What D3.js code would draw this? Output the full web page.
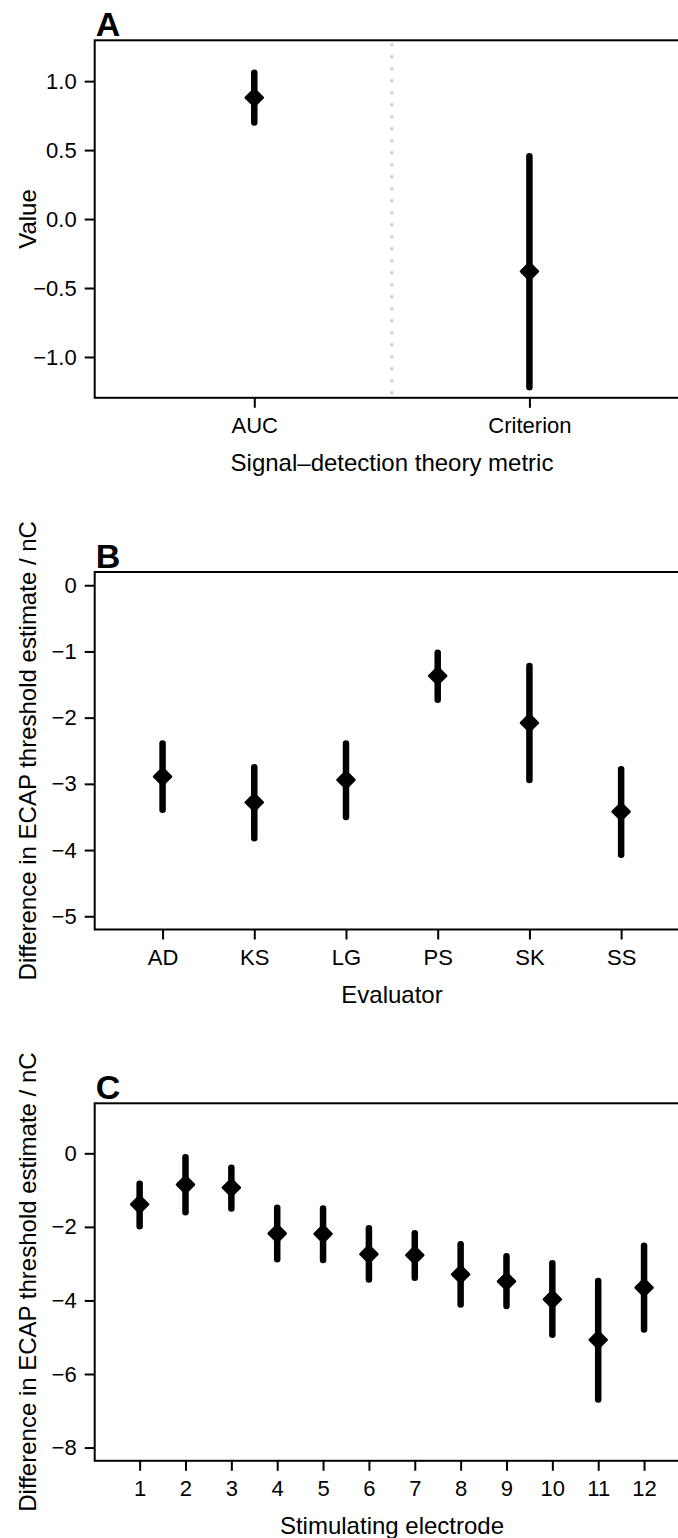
<!DOCTYPE html>
<html>
<head>
<meta charset="utf-8">
<script src="https://cdn.jsdelivr.net/npm/d3@7"></script>
<style>
  body { margin: 0; background: #fff; }
  text { font-family: "Liberation Sans", Arial, Helvetica, sans-serif; fill: #000; }
</style>
</head>
<body>
<div id="chart"></div>
<script>
// Panel A: signal-detection theory metrics
const metricLabels = ["AUC", "Criterion"];
const metricEst = [0.88, -0.38];
const metricLo = [0.70, -1.22];
const metricHi = [1.06, 0.455];
const metricTicks = [-1.0, -0.5, 0.0, 0.5, 1.0];

// Panel B: evaluators
const evaluators = ["AD", "KS", "LG", "PS", "SK", "SS"];
const evalEst = [-2.89, -3.28, -2.94, -1.37, -2.08, -3.42];
const evalLo = [-3.39, -3.82, -3.50, -1.73, -2.94, -4.07];
const evalHi = [-2.39, -2.75, -2.39, -1.02, -1.22, -2.78];
const evalTicks = [-5, -4, -3, -2, -1, 0];

// Panel C: stimulating electrodes
const electrodes = ["1", "2", "3", "4", "5", "6", "7", "8", "9", "10", "11", "12"];
const elecEst = [-1.39, -0.85, -0.93, -2.18, -2.19, -2.74, -2.77, -3.29, -3.48, -3.97, -5.07, -3.65];
const elecLo = [-1.98, -1.60, -1.50, -2.88, -2.90, -3.43, -3.38, -4.11, -4.15, -4.93, -6.69, -4.79];
const elecHi = [-0.83, -0.11, -0.39, -1.48, -1.50, -2.04, -2.17, -2.47, -2.80, -2.99, -3.47, -2.51];
const elecTicks = [-8, -6, -4, -2, 0];

const width = 678, height = 1538;
const left = 94.7, right = 689, panelH = 357.5;

const svg = d3.select("#chart").append("svg")
    .attr("width", width)
    .attr("height", height);

function drawPanel(cfg) {
    const n = cfg.cats.length;
    const pad = 0.04 * n;
    const x = d3.scaleLinear()
        .domain([0.5 - pad, n + 0.5 + pad])
        .range([left, right]);
    const ySpan = cfg.ylim[1] - cfg.ylim[0];
    const y = d3.scaleLinear()
        .domain([cfg.ylim[0] - 0.04 * ySpan, cfg.ylim[1] + 0.04 * ySpan])
        .range([cfg.top + panelH, cfg.top]);

    const g = svg.append("g");
    const bottom = cfg.top + panelH;

    // dotted separator between the two metrics
    if (cfg.separator) {
        g.append("line")
            .attr("x1", x(1.5)).attr("x2", x(1.5))
            .attr("y1", cfg.top + 3).attr("y2", bottom - 3)
            .attr("stroke", "#cfcfcf")
            .attr("stroke-width", 3)
            .attr("stroke-dasharray", "3,9");
    }

    // y axis
    const yAxis = g.append("g")
        .attr("transform", `translate(${left},0)`)
        .call(d3.axisLeft(y).tickValues(cfg.yticks).tickFormat(d3.format(cfg.yfmt))
            .tickSize(10).tickPadding(8));
    yAxis.select(".domain").remove();
    yAxis.selectAll("line").attr("stroke", "#000").attr("stroke-width", 2);
    yAxis.selectAll("text")
        .style("font-size", "22px")
        .attr("fill", "#000");

    // x axis
    const xAxis = g.append("g")
        .attr("transform", `translate(0,${bottom})`)
        .call(d3.axisBottom(x).tickValues(d3.range(1, n + 1))
            .tickFormat((d, i) => cfg.cats[i]).tickSize(10).tickPadding(0));
    xAxis.select(".domain").remove();
    xAxis.selectAll("line").attr("stroke", "#000").attr("stroke-width", 2);
    xAxis.selectAll("text")
        .style("font-size", "22px")
        .attr("fill", "#000")
        .attr("y", 35)
        .attr("dy", null);

    // box (right edge falls outside the picture)
    g.append("rect")
        .attr("x", left).attr("y", cfg.top)
        .attr("width", right - left).attr("height", panelH)
        .attr("fill", "none")
        .attr("stroke", "#000")
        .attr("stroke-width", 2);

    // error bars
    g.selectAll(".ci")
        .data(cfg.est)
        .join("line")
        .attr("x1", (d, i) => x(i + 1))
        .attr("x2", (d, i) => x(i + 1))
        .attr("y1", (d, i) => y(cfg.lo[i]))
        .attr("y2", (d, i) => y(cfg.hi[i]))
        .attr("stroke", "#000")
        .attr("stroke-width", 6.5)
        .attr("stroke-linecap", "round");

    // diamonds
    const s = 8.5;
    g.selectAll(".pt")
        .data(cfg.est)
        .join("path")
        .attr("transform", (d, i) => `translate(${x(i + 1)},${y(d)})`)
        .attr("d", `M0,${-s}L${s},0L0,${s}L${-s},0Z`)
        .attr("fill", "#000")
        .attr("stroke", "#000")
        .attr("stroke-width", 2.5)
        .attr("stroke-linejoin", "round");

    // axis titles
    g.append("text")
        .attr("x", cfg.xlabX)
        .attr("y", bottom + 73)
        .attr("text-anchor", "middle")
        .style("font-size", "24px")
        .text(cfg.xlab);

    g.append("text")
        .attr("transform", `translate(36,${cfg.top + panelH / 2}) rotate(-90)`)
        .attr("text-anchor", "middle")
        .style("font-size", "24px")
        .text(cfg.ylab);

    // panel letter
    g.append("text")
        .attr("x", left + 1)
        .attr("y", cfg.top - 4)
        .style("font-size", "34px")
        .style("font-weight", "bold")
        .text(cfg.letter);
}

const yTitle = "Difference in ECAP threshold estimate / nC";

drawPanel({
    letter: "A", top: 40.3, cats: metricLabels, est: metricEst, lo: metricLo, hi: metricHi,
    ylim: [-1.2, 1.2], yticks: metricTicks, yfmt: ".1f",
    xlab: "Signal\u2013detection theory metric", xlabX: 392, ylab: "Value", separator: true
});

drawPanel({
    letter: "B", top: 572, cats: evaluators, est: evalEst, lo: evalLo, hi: evalHi,
    ylim: [-5, 0], yticks: evalTicks, yfmt: "d",
    xlab: "Evaluator", xlabX: 392, ylab: yTitle, separator: false
});

drawPanel({
    letter: "C", top: 1103.3, cats: electrodes, est: elecEst, lo: elecLo, hi: elecHi,
    ylim: [-8, 1], yticks: elecTicks, yfmt: "d",
    xlab: "Stimulating electrode", xlabX: 392, ylab: yTitle, separator: false
});
</script>
</body>
</html>
